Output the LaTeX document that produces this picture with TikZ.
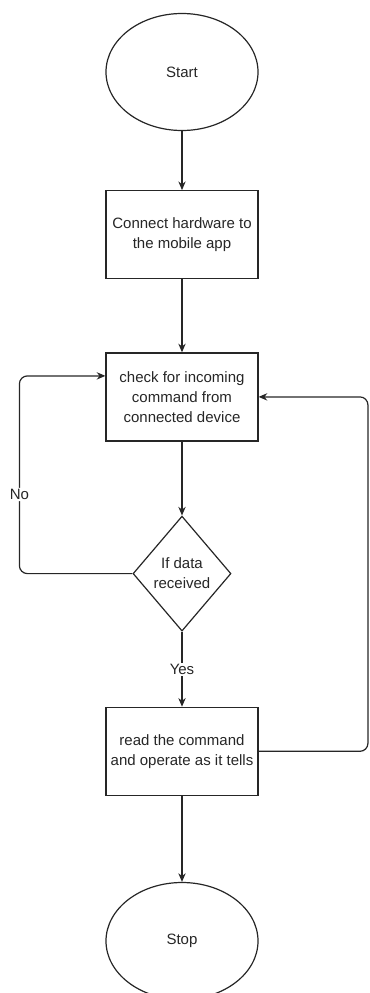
\documentclass[tikz,border=0pt]{standalone}
\usepackage{fontspec}
\setmainfont{Liberation Sans}
\usetikzlibrary{shapes.geometric,arrows.meta,positioning}

\tikzset{
  box/.style={rectangle,draw,minimum width=114pt,minimum height=66pt,inner sep=1pt,align=center},
  term/.style={ellipse,draw,minimum width=114pt,minimum height=87.75pt,inner sep=0pt},
  decision/.style={diamond,draw,minimum width=73.5pt,minimum height=86.25pt,inner sep=0pt,align=center},
  flow/.style={-{Stealth[length=6.5pt,width=5.5pt]}},
  lbl/.style={fill=white,inner sep=1pt}
}

\begin{document}
\begin{tikzpicture}[x=0.75pt,y=-0.75pt,line width=0.9pt,draw=black!85,
  font=\fontsize{11.25}{15}\selectfont,text=black!85]
  \useasboundingbox (0,0) rectangle (369,993);

  \node[term] (start) at (182,72) {Start};
  \node[box, below = 44.25pt of start] (connect) {Connect hardware to\\the mobile app};
  \node[box, below = 54.75pt of connect] (check) {check for incoming\\command from\\connected device};
  \node[decision, below = 55.5pt of check] (decide) {If data\\received};
  \node[box, below = 56.25pt of decide] (operate) {read the command\\and operate as it tells};
  \node[term, below = 64.5pt of operate] (stop) {Stop};

  \draw[flow] (start) -- (connect);
  \draw[flow] (connect) -- (check);
  \draw[flow] (check) -- (decide);
  \draw[flow] (decide) -- (operate) node [midway,lbl] {Yes};
  \draw[flow] (operate) -- (stop);

  \draw[flow,rounded corners=6pt] (decide.west) -| ([shift={(-64.5pt,15.75pt)}]check.west)
    node [pos=0.7,lbl] {No} -- ([yshift=15.75pt]check.west);
  \draw[flow,rounded corners=6pt] (operate.east) -| ([xshift=82pt]check.east) -- (check.east);

\end{tikzpicture}
\end{document}
